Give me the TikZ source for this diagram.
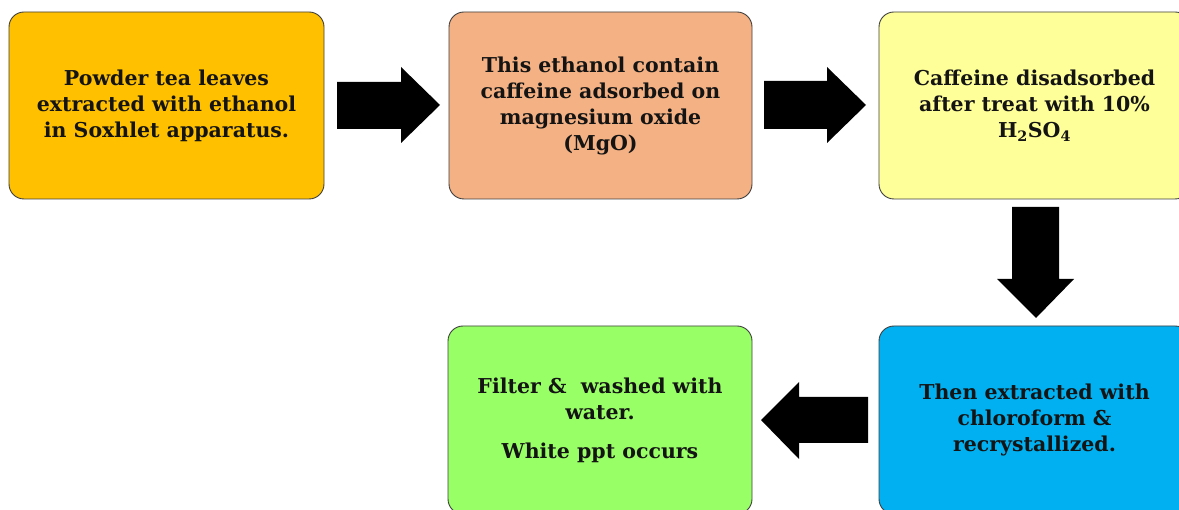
\documentclass[tikz,border=0pt]{standalone}
\usepackage{fontspec}
\setmainfont{DejaVu Serif}
\definecolor{boxline}{HTML}{3F3F3F}
\definecolor{cA}{HTML}{FFC000}
\definecolor{cB}{HTML}{F4B183}
\definecolor{cC}{HTML}{FFFF99}
\definecolor{cD}{HTML}{99FF66}
\definecolor{cE}{HTML}{00B0F0}
\definecolor{txt}{HTML}{141414}
\begin{document}
\begin{tikzpicture}[x=1pt,y=-1pt,
  stepbox/.style={draw=boxline, line width=0.9pt, rounded corners=15pt,
    align=center, inner sep=0pt, text=txt,
    font=\fontsize{20.5}{26}\selectfont\bfseries},
  blockarrow/.style={fill=black}]
\useasboundingbox (0,0) rectangle (1179,510);
\clip (0,0) rectangle (1179,510);
\fill[white] (0,0) rectangle (1179,510);
% boxes
\node[stepbox, fill=cA, minimum width=315pt, minimum height=187pt] (b1) at (166.5,105.5)
  {Powder tea leaves\\extracted with ethanol\\in Soxhlet apparatus.};
\node[stepbox, fill=cB, minimum width=303pt, minimum height=187pt] (b2) at (600.5,105.5)
  {This ethanol contain\\caffeine adsorbed on\\magnesium oxide\\(MgO)};
\node[stepbox, fill=cC, minimum width=311pt, minimum height=187pt] (b3) at (1034.5,105.5)
  {Caffeine disadsorbed\\after treat with 10\%\\H\textsubscript{2}SO\textsubscript{4}};
\node[stepbox, fill=cD, minimum width=304pt, minimum height=188pt] (b4) at (600,420)
  {Filter \&\ \ washed with\\water.\\[13pt]White ppt occurs};
\node[stepbox, fill=cE, minimum width=311pt, minimum height=188pt] (b5) at (1034.5,420)
  {Then extracted with\\chloroform \&\\recrystallized.};
% block arrows
\fill[blockarrow] (337,82) -- (401,82) -- (401,67) -- (440,105) -- (401,143) -- (401,129) -- (337,129) -- cycle;
\fill[blockarrow] (764,81) -- (827,81) -- (827,67) -- (866,105) -- (827,143) -- (827,129) -- (764,129) -- cycle;
\fill[blockarrow] (1012,207) -- (1059,207) -- (1059,279) -- (1074,279) -- (1036,318) -- (997,279) -- (1012,279) -- cycle;
\fill[blockarrow] (868,397) -- (799,397) -- (799,382) -- (761,420) -- (799,459) -- (799,443) -- (868,443) -- cycle;
\end{tikzpicture}
\end{document}
